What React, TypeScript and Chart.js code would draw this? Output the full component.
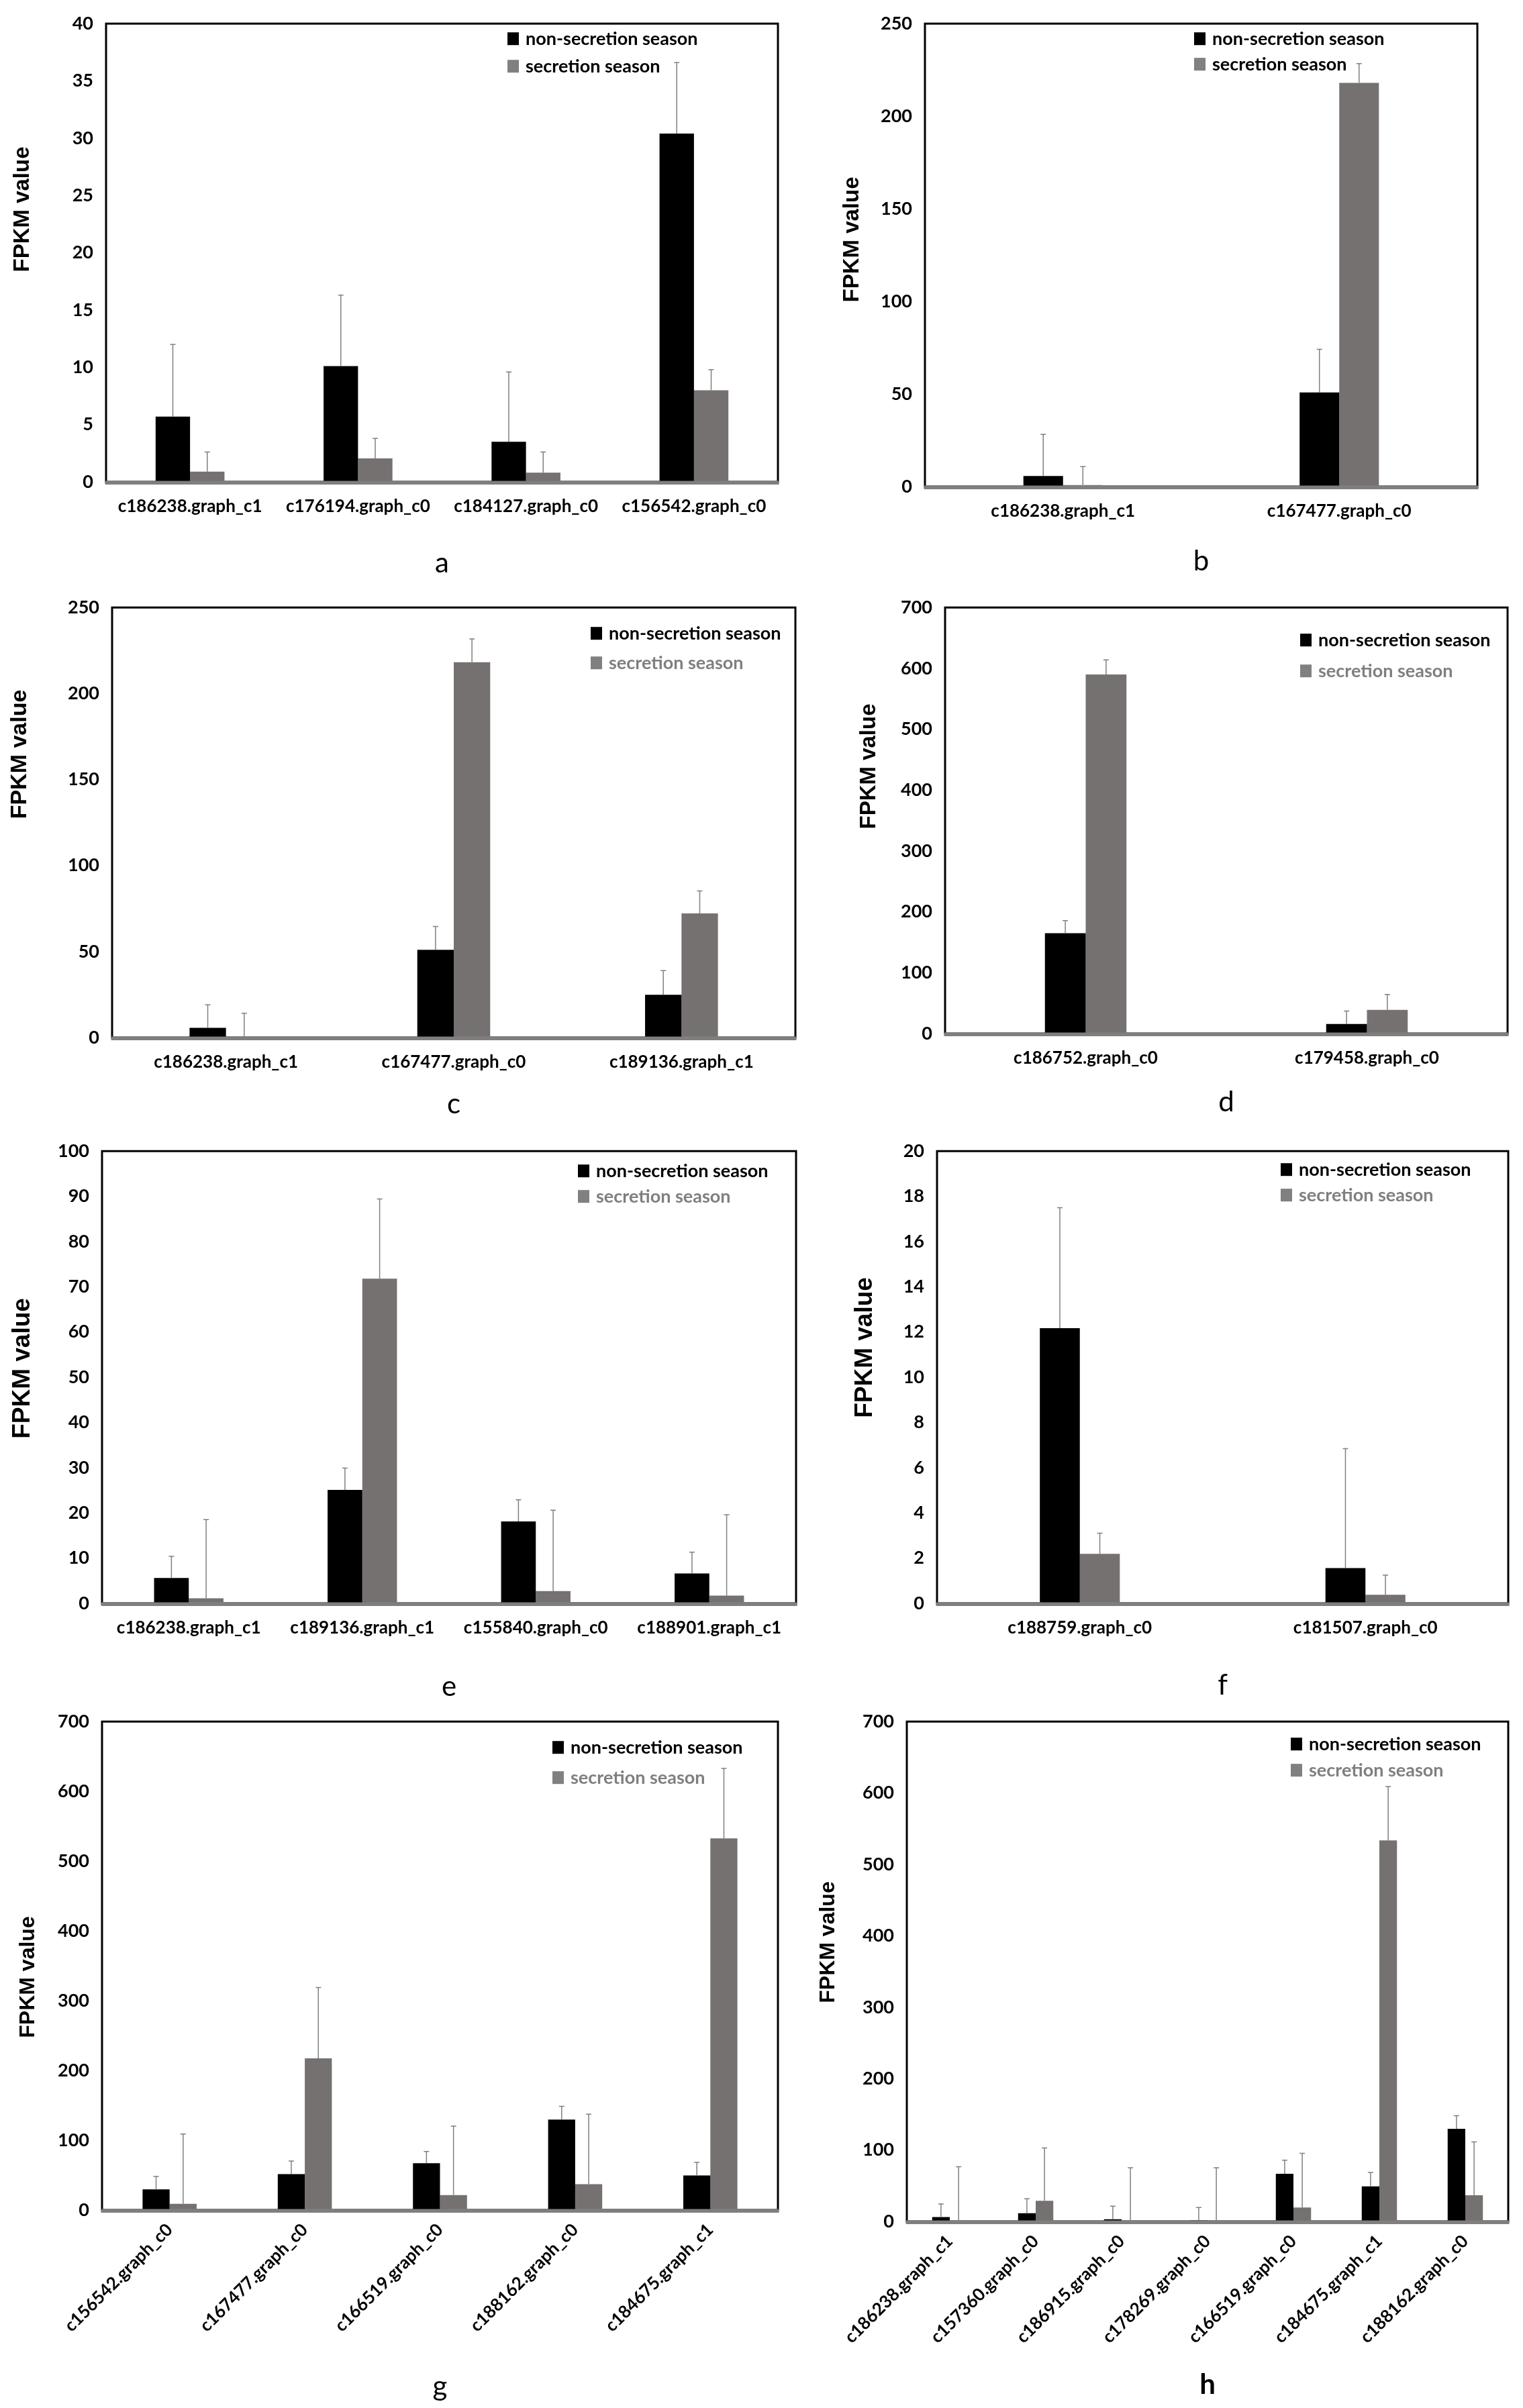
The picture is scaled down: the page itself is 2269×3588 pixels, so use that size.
import { useEffect, useRef } from "react";
import { Chart, registerables } from "chart.js";

Chart.register(...registerables);
Chart.defaults.color = "#000";

const NON_LABEL = "non-secretion season";
const SEC_LABEL = "secretion season";
const Y_TITLE = "FPKM value";
const BLACK = "#000000";
const GRAY = "#767171";

// panel a
const catsA = ["c186238.graph_c1", "c176194.graph_c0", "c184127.graph_c0", "c156542.graph_c0"];
const nonA = [5.7, 10.1, 3.5, 30.4];
const nonErrA = [6.3, 6.2, 6.1, 6.2];
const secA = [0.9, 2.05, 0.8, 8.0];
const secErrA = [1.7, 1.75, 1.8, 1.8];

// panel b
const catsB = ["c186238.graph_c1", "c167477.graph_c0"];
const nonB = [5.7, 50.8];
const nonErrB = [22.5, 23.3];
const secB = [0.8, 218];
const secErrB = [10, 10.4];

// panel c
const catsC = ["c186238.graph_c1", "c167477.graph_c0", "c189136.graph_c1"];
const nonC = [5.7, 51, 24.9];
const nonErrC = [13.3, 13.6, 14];
const secC = [0.3, 218.2, 72.2];
const secErrC = [13.8, 13.5, 13];

// panel d
const catsD = ["c186752.graph_c0", "c179458.graph_c0"];
const nonD = [164.8, 15.6];
const nonErrD = [20.7, 21.3];
const secD = [590, 39];
const secErrD = [24, 25.2];

// panel e
const catsE = ["c186238.graph_c1", "c189136.graph_c1", "c155840.graph_c0", "c188901.graph_c1"];
const nonE = [5.6, 25.1, 18.1, 6.6];
const nonErrE = [4.8, 4.8, 4.8, 4.7];
const secE = [1.1, 71.8, 2.7, 1.7];
const secErrE = [17.4, 17.6, 17.9, 17.9];

// panel f
const catsF = ["c188759.graph_c0", "c181507.graph_c0"];
const nonF = [12.17, 1.56];
const nonErrF = [5.33, 5.28];
const secF = [2.19, 0.38];
const secErrF = [0.91, 0.87];

// panel g
const catsG = ["c156542.graph_c0", "c167477.graph_c0", "c166519.graph_c0", "c188162.graph_c0", "c184675.graph_c1"];
const nonG = [29.5, 51.4, 67, 129.7, 49.5];
const nonErrG = [18.7, 18.8, 17, 18.8, 18.8];
const secG = [8.8, 217.4, 21.3, 37, 532.6];
const secErrG = [100.2, 101.5, 99, 100.2, 100.2];

// panel h
const catsH = [
  "c186238.graph_c1", "c157360.graph_c0", "c186915.graph_c0", "c178269.graph_c0",
  "c166519.graph_c0", "c184675.graph_c1", "c188162.graph_c0",
];
const nonH = [6.1, 11.6, 3.1, 1.5, 66.7, 49, 129.7];
const nonErrH = [18.4, 20.2, 18.3, 18.1, 19, 19.5, 18.3];
const secH = [1.2, 28.8, 0.5, 0.5, 19.6, 533.7, 36.7];
const secErrH = [75.3, 74, 74.8, 74.8, 75.9, 75.3, 74.7];

type Box = { x: number; y: number; w: number; h: number };
type Area = { l: number; t: number; r: number; b: number };
type LegendPos = { dx: number; dy1: number; dy2: number; secColor: string };
type YTitle = { x: number; y: number; size: number };

type PanelProps = {
  cats: string[];
  non: number[];
  nonErr: number[];
  sec: number[];
  secErr: number[];
  yMax: number;
  yStep: number;
  letter: string;
  letterBold?: boolean;
  box: Box;
  area: Area;
  pb: number;
  yTitle: YTitle;
  catPct: number;
  rotate?: boolean;
  legend: LegendPos;
};

// frame + grey baseline, error bars, y title and legend inside the plot
const framePlugin = {
  id: "frame",
  beforeDatasetsDraw(chart: any) {
    const { ctx, chartArea: a } = chart;
    ctx.save();
    ctx.strokeStyle = "#000";
    ctx.lineWidth = 3;
    ctx.strokeRect(a.left, a.top, a.right - a.left, a.bottom - a.top);
    ctx.restore();
  },
  afterDatasetsDraw(chart: any) {
    const { ctx, chartArea: a } = chart;
    const y0 = chart.scales.y.getPixelForValue(0);
    ctx.save();
    ctx.fillStyle = "#7f7f7f";
    ctx.fillRect(a.left - 1.5, y0 - 1.5, a.right - a.left + 3, 5.5);
    // upper error bars
    ctx.strokeStyle = "#808080";
    ctx.lineWidth = 1.5;
    chart.data.datasets.forEach((ds: any, i: number) => {
      const meta = chart.getDatasetMeta(i);
      meta.data.forEach((bar: any, j: number) => {
        const v = ds.data[j];
        const top = chart.scales.y.getPixelForValue(v + ds.errors[j]);
        const base = chart.scales.y.getPixelForValue(v);
        ctx.beginPath();
        ctx.moveTo(bar.x, base);
        ctx.lineTo(bar.x, top);
        ctx.moveTo(bar.x - 4, top);
        ctx.lineTo(bar.x + 4, top);
        ctx.stroke();
      });
    });
    ctx.restore();
  },
  afterDraw(chart: any, _args: any, opts: any) {
    const { ctx, chartArea: a } = chart;
    const lg = opts.pos as LegendPos;
    const yt = opts.yTitle as YTitle;
    ctx.save();
    // y axis title
    ctx.translate(yt.x, yt.y);
    ctx.rotate(-Math.PI / 2);
    ctx.font = `bold ${yt.size}px "Liberation Sans"`;
    ctx.fillStyle = "#000";
    ctx.textAlign = "center";
    ctx.textBaseline = "middle";
    ctx.fillText(Y_TITLE, 0, 0);
    ctx.restore();

    const rows = [
      { y: a.top + lg.dy1, fill: "#000", text: NON_LABEL, color: "#000" },
      { y: a.top + lg.dy2, fill: "#808080", text: SEC_LABEL, color: lg.secColor },
    ];
    ctx.save();
    ctx.font = "bold 27px Lato";
    ctx.textBaseline = "middle";
    ctx.textAlign = "left";
    rows.forEach((r) => {
      ctx.fillStyle = r.fill;
      ctx.fillRect(a.left + lg.dx, r.y - 9, 17, 19);
      ctx.fillStyle = r.color;
      ctx.fillText(r.text, a.left + lg.dx + 27, r.y + 1);
    });
    ctx.restore();
  },
};

function Panel(p: PanelProps) {
  const canvasRef = useRef<HTMLCanvasElement | null>(null);
  const chartRef = useRef<Chart | null>(null);

  useEffect(() => {
    if (!canvasRef.current) return;
    chartRef.current?.destroy();

    const padTop = p.area.t - p.box.y;
    const padRight = p.box.x + p.box.w - p.area.r;
    const yWidth = p.area.l - p.box.x;
    const xHeight = p.box.y + p.box.h - p.pb - p.area.b;
    const tickFont = { family: "Lato", weight: "bold" as const, size: 27 };

    chartRef.current = new Chart(canvasRef.current, {
      type: "bar",
      data: {
        labels: p.cats,
        datasets: [
          { label: NON_LABEL, data: p.non, errors: p.nonErr, backgroundColor: BLACK } as any,
          { label: SEC_LABEL, data: p.sec, errors: p.secErr, backgroundColor: GRAY } as any,
        ],
      },
      options: {
        responsive: false,
        animation: false,
        layout: { padding: { left: 0, top: padTop, right: padRight, bottom: p.pb } },
        datasets: { bar: { categoryPercentage: p.catPct, barPercentage: 1, borderWidth: 0 } },
        scales: {
          x: {
            grid: { display: false, drawTicks: false },
            border: { display: false },
            ticks: {
              font: { ...tickFont, size: 26 },
              color: "#000",
              padding: p.rotate ? 14 : 21,
              autoSkip: false,
              minRotation: p.rotate ? 45 : 0,
              maxRotation: p.rotate ? 45 : 0,
            },
            title: {
              display: true,
              text: p.letter,
              color: "#000",
              padding: 0,
              font: { family: "Lato", size: 42, weight: p.letterBold ? "bold" : "normal" },
            },
            afterFit: (s: any) => {
              s.height = xHeight;
            },
          },
          y: {
            min: 0,
            max: p.yMax,
            grid: { display: false, drawTicks: false },
            border: { display: false },
            ticks: { stepSize: p.yStep, font: tickFont, color: "#000", padding: 19 },
            afterFit: (s: any) => {
              s.width = yWidth;
            },
          },
        },
        plugins: {
          legend: { display: false },
          tooltip: { enabled: false },
          frame: {
            pos: p.legend,
            yTitle: { x: p.yTitle.x - p.box.x, y: p.yTitle.y - p.box.y, size: p.yTitle.size },
          },
        } as any,
      },
      plugins: [framePlugin],
    });

    return () => {
      chartRef.current?.destroy();
      chartRef.current = null;
    };
  }, []);

  return (
    <canvas
      ref={canvasRef}
      width={p.box.w}
      height={p.box.h}
      style={{ position: "absolute", left: p.box.x, top: p.box.y }}
    />
  );
}

const GREY_TEXT = "#7f7f7f";

const App = () => (
  <div style={{ position: "absolute", left: 0, top: 0, width: 2269, height: 3588, background: "#fff", overflow: "hidden" }}>
    <Panel
      cats={catsA} non={nonA} nonErr={nonErrA} sec={secA} secErr={secErrA}
      yMax={40} yStep={5} letter="a"
      box={{ x: 0, y: 0, w: 1190, h: 870 }} area={{ l: 158, t: 26, r: 1159, b: 718 }} pb={5}
      yTitle={{ x: 34, y: 312, size: 33 }} catPct={0.41}
      legend={{ dx: 598, dy1: 22, dy2: 63, secColor: "#000" }}
    />
    <Panel
      cats={catsB} non={nonB} nonErr={nonErrB} sec={secB} secErr={secErrB}
      yMax={250} yStep={50} letter="b"
      box={{ x: 1190, y: 0, w: 1079, h: 870 }} area={{ l: 1378, t: 26, r: 2201, b: 725 }} pb={8}
      yTitle={{ x: 1270, y: 357, size: 33 }} catPct={0.287}
      legend={{ dx: 401, dy1: 22, dy2: 60, secColor: "#000" }}
    />
    <Panel
      cats={catsC} non={nonC} nonErr={nonErrC} sec={secC} secErr={secErrC}
      yMax={250} yStep={50} letter="c"
      box={{ x: 0, y: 870, w: 1190, h: 810 }} area={{ l: 167, t: 880, r: 1185, b: 1546 }} pb={9}
      yTitle={{ x: 30, y: 1124, size: 34 }} catPct={0.32}
      legend={{ dx: 713, dy1: 38, dy2: 82, secColor: GREY_TEXT }}
    />
    <Panel
      cats={catsD} non={nonD} nonErr={nonErrD} sec={secD} secErr={secErrD}
      yMax={700} yStep={100} letter="d"
      box={{ x: 1190, y: 870, w: 1079, h: 810 }} area={{ l: 1408, t: 885, r: 2246, b: 1540 }} pb={12}
      yTitle={{ x: 1295, y: 1142, size: 33 }} catPct={0.29}
      legend={{ dx: 529, dy1: 48, dy2: 94, secColor: GREY_TEXT }}
    />
    <Panel
      cats={catsE} non={nonE} nonErr={nonErrE} sec={secE} secErr={secErrE}
      yMax={100} yStep={10} letter="e"
      box={{ x: 0, y: 1680, w: 1195, h: 860 }} area={{ l: 152, t: 1706, r: 1186, b: 2389 }} pb={1}
      yTitle={{ x: 34, y: 2039, size: 37 }} catPct={0.4}
      legend={{ dx: 709, dy1: 29, dy2: 67, secColor: GREY_TEXT }}
    />
    <Panel
      cats={catsF} non={nonF} nonErr={nonErrF} sec={secF} secErr={secErrF}
      yMax={20} yStep={2} letter="f"
      box={{ x: 1190, y: 1680, w: 1079, h: 860 }} area={{ l: 1396, t: 1706, r: 2247, b: 2389 }} pb={3}
      yTitle={{ x: 1289, y: 2008, size: 37 }} catPct={0.28}
      legend={{ dx: 512, dy1: 27, dy2: 65, secColor: GREY_TEXT }}
    />
    <Panel
      cats={catsG} non={nonG} nonErr={nonErrG} sec={secG} secErr={secErrG}
      yMax={700} yStep={100} letter="g" rotate
      box={{ x: 0, y: 2530, w: 1190, h: 1058 }} area={{ l: 152, t: 2547, r: 1159, b: 3293 }} pb={6}
      yTitle={{ x: 42, y: 2946, size: 32 }} catPct={0.4}
      legend={{ dx: 671, dy1: 38, dy2: 83, secColor: GREY_TEXT }}
    />
    <Panel
      cats={catsH} non={nonH} nonErr={nonErrH} sec={secH} secErr={secErrH}
      yMax={700} yStep={100} letter="h" letterBold rotate
      box={{ x: 1190, y: 2530, w: 1079, h: 1058 }} area={{ l: 1351, t: 2545, r: 2247, b: 3310 }} pb={9}
      yTitle={{ x: 1234, y: 2894, size: 32 }} catPct={0.41}
      legend={{ dx: 572, dy1: 33, dy2: 72, secColor: GREY_TEXT }}
    />
  </div>
);

export default App;
